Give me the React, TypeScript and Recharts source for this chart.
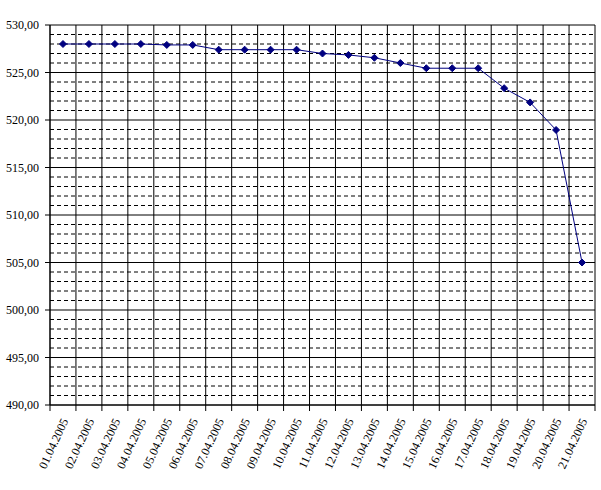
import React from 'react';
import { LineChart, Line, XAxis, YAxis, CartesianGrid } from 'recharts';

// daily values, 01.04.2005 - 21.04.2005
const dates = [
  '01.04.2005', '02.04.2005', '03.04.2005', '04.04.2005', '05.04.2005', '06.04.2005', '07.04.2005',
  '08.04.2005', '09.04.2005', '10.04.2005', '11.04.2005', '12.04.2005', '13.04.2005', '14.04.2005',
  '15.04.2005', '16.04.2005', '17.04.2005', '18.04.2005', '19.04.2005', '20.04.2005', '21.04.2005',
];
const values = [
  528.0, 528.0, 528.0, 528.0, 527.9, 527.9, 527.4,
  527.4, 527.4, 527.4, 527.0, 526.85, 526.55, 526.0,
  525.45, 525.45, 525.45, 523.35, 521.85, 518.95, 505.0,
];
const majorTicks = [490, 495, 500, 505, 510, 515, 520, 525, 530];
const minorTicks = Array.from({ length: 41 }, (_, i) => 490 + i).filter((v) => v % 5 !== 0);

const data = dates.map((d, i) => ({ idx: i, date: d, value: values[i] }));
const labelTicks = dates.map((_, i) => i);
const boundTicks = [...dates.map((_, i) => i - 0.5), dates.length - 0.5];

const font = 'Liberation Serif';

const DateTick = ({ x, y, payload }: any) => (
  <g transform={`translate(${x + 2},${y + 5})`}>
    <text x={0} y={0} dy={4} textAnchor="end" transform="rotate(-65)" fontSize={12} fontFamily={font} fill="#000">
      {dates[payload.value]}
    </text>
  </g>
);

const NoTick = () => <g />;

const Diamond = ({ cx, cy }: any) => {
  if (cx == null || cy == null) return null;
  const r = 3.5;
  return <polygon points={`${cx},${cy - r} ${cx + r},${cy} ${cx},${cy + r} ${cx - r},${cy}`} fill="#000080" stroke="#000080" />;
};

export default function App() {
  return (
    <div style={{ position: 'absolute', left: 0, top: 0, background: '#fff', fontFamily: font }}>
      <LineChart width={601} height={490} data={data} margin={{ top: 25, right: 6, left: 0, bottom: 0 }}>
        <CartesianGrid xAxisId="g" vertical={false} horizontalValues={minorTicks} stroke="#000" strokeDasharray="4 3" />
        <CartesianGrid xAxisId="g" verticalValues={boundTicks} stroke="#000" />
        <XAxis
          xAxisId="g"
          type="number"
          dataKey="idx"
          domain={[-0.5, dates.length - 0.5]}
          ticks={boundTicks}
          interval={0}
          tick={<NoTick />}
          tickSize={6}
          height={1}
          stroke="#000"
        />
        <XAxis
          xAxisId="lab"
          type="number"
          dataKey="idx"
          domain={[-0.5, dates.length - 0.5]}
          ticks={labelTicks}
          interval={0}
          axisLine={false}
          tickLine={false}
          height={84}
          tick={<DateTick />}
        />
        <YAxis
          domain={[490, 530]}
          ticks={majorTicks}
          interval={0}
          width={50}
          tickSize={5}
          tickMargin={6}
          stroke="#000"
          tick={{ fontSize: 12, fontFamily: font, fill: '#000' }}
          tickFormatter={(v: number) => v.toFixed(2).replace('.', ',')}
        />
        <Line
          xAxisId="lab"
          type="linear"
          dataKey="value"
          stroke="#000080"
          strokeWidth={1}
          dot={<Diamond />}
          activeDot={false}
          isAnimationActive={false}
        />
      </LineChart>
    </div>
  );
}
